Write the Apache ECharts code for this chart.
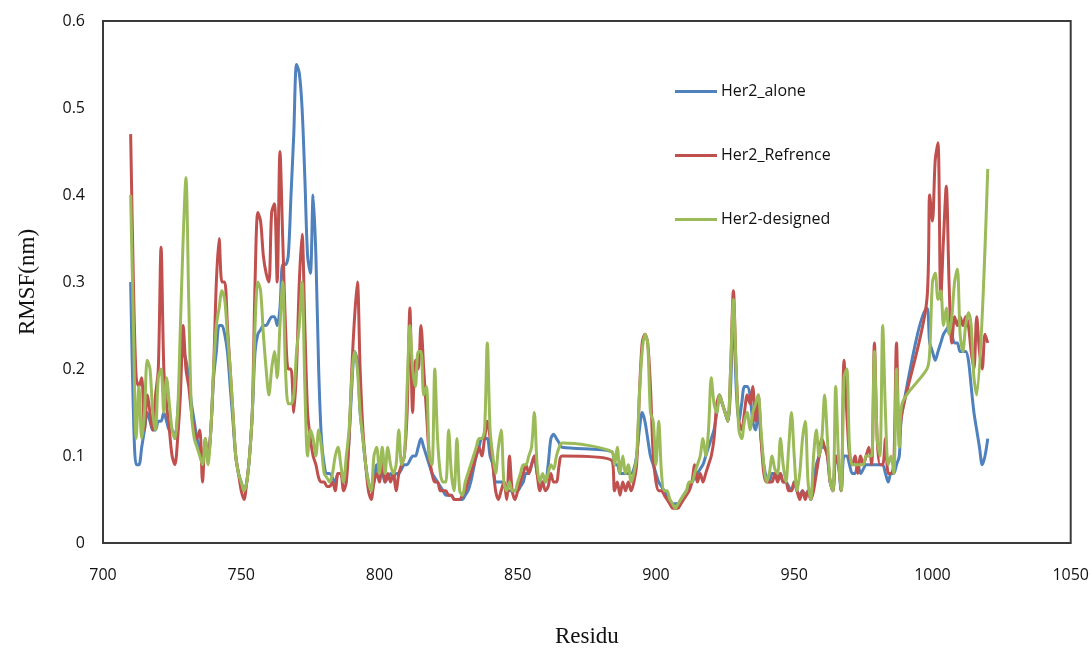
<!DOCTYPE html>
<html>
<head>
<meta charset="utf-8">
<script src="https://cdn.jsdelivr.net/npm/echarts@6/dist/echarts.min.js"></script>
<style>html,body{margin:0;padding:0;background:#fff;}#c{width:1092px;height:654px;}</style>
</head>
<body>
<div id="c"></div>
<script>
// Residue ranges present in the data (gaps 867-883 and 990-997 are drawn as straight joins)
var residueRanges = [[710, 866], [884, 989], [998, 1020]];
var xTicks = [700, 750, 800, 850, 900, 950, 1000, 1050];
var yTicks = [0, 0.1, 0.2, 0.3, 0.4, 0.5, 0.6];
var seriesNames = ['Her2_alone', 'Her2_Refrence', 'Her2-designed'];

var her2Alone = [
0.30,0.15,0.09,0.09,0.11,0.13,0.15,0.14,0.13,0.13,
0.14,0.14,0.15,0.14,0.13,0.13,0.12,0.15,0.20,0.22,
0.21,0.19,0.16,0.14,0.12,0.11,0.09,0.11,0.10,0.13,
0.19,0.22,0.25,0.25,0.24,0.22,0.18,0.14,0.10,0.08,
0.07,0.06,0.07,0.10,0.15,0.22,0.24,0.245,0.25,0.25,
0.255,0.26,0.26,0.25,0.27,0.32,0.32,0.33,0.40,0.47,
0.55,0.54,0.50,0.42,0.33,0.31,0.40,0.33,0.20,0.12,
0.09,0.08,0.08,0.075,0.07,0.08,0.08,0.07,0.08,0.12,
0.18,0.22,0.21,0.15,0.12,0.09,0.07,0.06,0.07,0.09,
0.08,0.08,0.07,0.075,0.08,0.075,0.08,0.08,0.085,0.09,
0.09,0.095,0.10,0.10,0.11,0.12,0.11,0.10,0.09,0.08,
0.075,0.07,0.065,0.06,0.055,0.055,0.055,0.05,0.05,0.05,
0.05,0.055,0.06,0.07,0.085,0.10,0.11,0.12,0.12,0.12,
0.10,0.09,0.07,0.07,0.07,0.07,0.06,0.06,0.06,0.06,
0.06,0.065,0.07,0.08,0.08,0.09,0.10,0.08,0.07,0.07,
0.07,0.09,0.12,0.125,0.12,0.115,0.11,
// 884-989
0.105,0.09,0.09,0.08,0.08,0.08,0.08,0.08,0.085,0.10,
0.13,0.15,0.14,0.12,0.10,0.09,0.08,0.07,0.065,0.06,
0.055,0.05,0.045,0.045,0.045,0.05,0.055,0.06,0.065,0.07,
0.075,0.08,0.085,0.09,0.10,0.11,0.12,0.13,0.15,0.17,
0.16,0.15,0.14,0.18,0.27,0.18,0.14,0.16,0.18,0.18,
0.17,0.14,0.13,0.15,0.12,0.09,0.075,0.07,0.08,0.08,
0.075,0.08,0.07,0.07,0.065,0.06,0.07,0.06,0.055,0.06,
0.055,0.06,0.05,0.07,0.09,0.10,0.11,0.11,0.10,0.07,
0.06,0.10,0.09,0.06,0.10,0.10,0.09,0.08,0.08,0.09,
0.08,0.085,0.09,0.09,0.09,0.09,0.09,0.09,0.09,0.08,
0.07,0.08,0.08,0.09,0.10,0.15,
// 998-1020
0.27,0.23,0.22,0.21,0.22,0.23,0.24,0.245,0.25,0.24,
0.23,0.23,0.22,0.22,0.22,0.21,0.18,0.15,0.13,0.11,
0.09,0.10,0.12
];

var her2Refrence = [
0.47,0.30,0.19,0.18,0.19,0.13,0.17,0.15,0.13,0.17,
0.20,0.34,0.20,0.16,0.13,0.10,0.09,0.12,0.17,0.25,
0.20,0.18,0.15,0.13,0.12,0.13,0.07,0.12,0.10,0.13,
0.20,0.30,0.35,0.30,0.30,0.25,0.20,0.15,0.10,0.08,
0.06,0.05,0.07,0.10,0.15,0.30,0.38,0.37,0.33,0.31,
0.30,0.38,0.39,0.30,0.45,0.35,0.25,0.20,0.20,0.15,
0.20,0.30,0.355,0.25,0.15,0.12,0.10,0.09,0.075,0.07,
0.07,0.065,0.065,0.07,0.06,0.08,0.08,0.06,0.07,0.12,
0.20,0.26,0.30,0.20,0.13,0.09,0.06,0.05,0.07,0.08,
0.07,0.10,0.07,0.08,0.07,0.08,0.06,0.08,0.09,0.10,
0.15,0.27,0.15,0.21,0.20,0.25,0.20,0.15,0.10,0.08,
0.07,0.07,0.06,0.06,0.06,0.055,0.055,0.05,0.05,0.05,
0.055,0.06,0.07,0.08,0.09,0.10,0.11,0.10,0.12,0.14,
0.12,0.09,0.06,0.05,0.06,0.07,0.05,0.10,0.06,0.05,
0.06,0.07,0.08,0.09,0.08,0.09,0.10,0.08,0.06,0.07,
0.06,0.065,0.08,0.07,0.07,0.09,0.10,
// 884-989
0.095,0.06,0.07,0.055,0.07,0.06,0.07,0.06,0.07,0.09,
0.17,0.23,0.24,0.23,0.18,0.10,0.07,0.06,0.06,0.055,
0.05,0.045,0.04,0.04,0.04,0.045,0.05,0.055,0.06,0.07,
0.09,0.07,0.08,0.07,0.08,0.09,0.10,0.12,0.16,0.17,
0.16,0.15,0.14,0.20,0.29,0.20,0.14,0.13,0.15,0.17,
0.16,0.18,0.14,0.17,0.12,0.08,0.07,0.07,0.07,0.08,
0.07,0.08,0.07,0.07,0.06,0.06,0.07,0.06,0.05,0.06,
0.05,0.06,0.05,0.06,0.08,0.10,0.12,0.11,0.10,0.07,
0.06,0.10,0.09,0.06,0.21,0.15,0.10,0.09,0.10,0.08,
0.10,0.09,0.10,0.11,0.09,0.23,0.12,0.09,0.09,0.12,
0.08,0.08,0.09,0.23,0.12,0.15,
// 998-1020
0.28,0.40,0.37,0.44,0.46,0.28,0.35,0.41,0.30,0.23,
0.26,0.25,0.26,0.25,0.26,0.25,0.22,0.20,0.26,0.22,
0.20,0.24,0.23
];

var her2Designed = [
0.40,0.25,0.12,0.18,0.12,0.15,0.21,0.20,0.15,0.13,
0.19,0.20,0.15,0.19,0.16,0.13,0.12,0.15,0.25,0.35,
0.42,0.28,0.15,0.12,0.11,0.10,0.09,0.12,0.09,0.13,
0.20,0.25,0.27,0.29,0.28,0.24,0.20,0.15,0.10,0.08,
0.07,0.06,0.07,0.10,0.15,0.25,0.30,0.29,0.24,0.20,
0.17,0.20,0.22,0.19,0.25,0.30,0.20,0.16,0.16,0.17,
0.22,0.25,0.30,0.18,0.10,0.13,0.12,0.10,0.13,0.11,
0.08,0.075,0.07,0.08,0.10,0.11,0.09,0.07,0.10,0.13,
0.19,0.22,0.20,0.15,0.12,0.09,0.07,0.06,0.10,0.11,
0.08,0.11,0.08,0.11,0.09,0.08,0.09,0.13,0.09,0.10,
0.18,0.25,0.20,0.18,0.22,0.22,0.17,0.18,0.10,0.09,
0.20,0.12,0.08,0.07,0.07,0.13,0.08,0.06,0.12,0.06,
0.055,0.07,0.08,0.09,0.10,0.11,0.12,0.12,0.13,0.23,
0.13,0.10,0.08,0.11,0.13,0.07,0.06,0.07,0.06,0.06,
0.07,0.08,0.09,0.09,0.10,0.11,0.15,0.09,0.07,0.08,
0.07,0.08,0.09,0.085,0.10,0.11,0.115,
// 884-989
0.105,0.09,0.11,0.08,0.10,0.08,0.09,0.07,0.08,0.10,
0.17,0.22,0.24,0.23,0.15,0.14,0.09,0.14,0.08,0.06,
0.06,0.05,0.045,0.04,0.045,0.05,0.055,0.06,0.07,0.07,
0.08,0.09,0.10,0.12,0.10,0.13,0.19,0.16,0.15,0.17,
0.16,0.15,0.14,0.20,0.28,0.20,0.13,0.12,0.14,0.15,
0.13,0.15,0.16,0.17,0.13,0.09,0.07,0.08,0.10,0.085,
0.08,0.12,0.09,0.07,0.11,0.15,0.10,0.06,0.08,0.12,
0.14,0.07,0.05,0.10,0.13,0.10,0.12,0.17,0.12,0.07,
0.06,0.18,0.10,0.06,0.19,0.20,0.11,0.09,0.09,0.09,
0.09,0.09,0.10,0.10,0.10,0.22,0.12,0.10,0.25,0.15,
0.09,0.10,0.08,0.20,0.11,0.16,
// 998-1020
0.20,0.22,0.30,0.31,0.28,0.29,0.25,0.27,0.24,0.26,
0.30,0.315,0.24,0.22,0.25,0.265,0.25,0.19,0.17,null,
null,null,0.43
];

var residues = [];
residueRanges.forEach(function (rg) { for (var r = rg[0]; r <= rg[1]; r++) residues.push(r); });

function pairs(vals) { return residues.map(function (r, i) { return [r, vals[i] === undefined ? null : vals[i]]; }); }

var colors = ['#4F81BD', '#C0504D', '#9BBB59'];
var valueSets = [her2Alone, her2Refrence, her2Designed];

var chart = echarts.init(document.getElementById('c'), null, { renderer: 'canvas' });
chart.setOption({
  animation: false,
  backgroundColor: '#ffffff',
  grid: { left: 103, right: 19, top: 21, bottom: 111, show: true, borderColor: '#3a3a3a', borderWidth: 2, backgroundColor: 'transparent' },
  legend: {
    data: seriesNames,
    orient: 'vertical',
    left: 670, top: 76,
    itemWidth: 42, itemHeight: 3, itemGap: 43,
    icon: 'rect',
    textStyle: { fontFamily: 'Open Sans', fontSize: 16, color: '#111', lineHeight: 21, padding: [0, 0, 0, -1] }
  },
  xAxis: {
    type: 'value', min: xTicks[0], max: xTicks[xTicks.length - 1], interval: 50,
    name: 'Residu', nameLocation: 'middle', nameGap: 82,
    nameTextStyle: { fontFamily: 'Liberation Serif', fontSize: 23, color: '#111' },
    axisLine: { show: false }, axisTick: { show: false }, splitLine: { show: false },
    axisLabel: { fontFamily: 'Open Sans', fontSize: 16, color: '#111', margin: 24, formatter: function (v) { return String(v); } }
  },
  yAxis: {
    type: 'value', min: yTicks[0], max: yTicks[yTicks.length - 1], interval: 0.1,
    name: 'RMSF(nm)', nameLocation: 'middle', nameGap: 64,
    nameTextStyle: { fontFamily: 'Liberation Serif', fontSize: 23, color: '#111' },
    axisLine: { show: false }, axisTick: { show: false }, splitLine: { show: false },
    axisLabel: { fontFamily: 'Open Sans', fontSize: 16, color: '#111', margin: 18 }
  },
  series: seriesNames.map(function (n, i) {
    return {
      name: n, type: 'line', data: pairs(valueSets[i]),
      showSymbol: false, smooth: 0.3, connectNulls: true,
      lineStyle: { width: 3, color: colors[i] }, itemStyle: { color: colors[i] },
      z: 2 + i
    };
  })
});
</script>
</body>
</html>
